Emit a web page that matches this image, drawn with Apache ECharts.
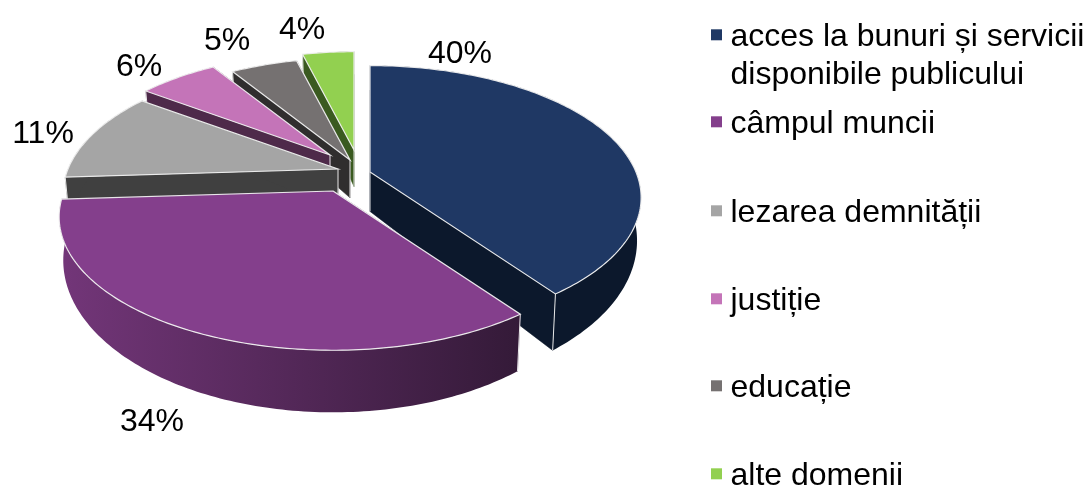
<!DOCTYPE html>
<html style="height: 100%">
<head>
<meta charset="utf-8">
<script src="https://cdn.jsdelivr.net/npm/echarts@6/dist/echarts.min.js"></script>
</head>
<body style="height: 100%; margin: 0; background: #fff;">
<div id="container" style="width: 1088px; height: 486px;"></div>
<script type="text/javascript">
// values
var categories = [
    'acces la bunuri și servicii\ndisponibile publicului',
    'câmpul muncii',
    'lezarea demnității',
    'justiție',
    'educație',
    'alte domenii'
];
var shares = [40, 34, 11, 6, 5, 4];

// colours: top face, side face
var topColors = ['#1f3864', '#843f8c', '#a5a5a5', '#c474b8', '#757171', '#92d050'];
var sideColors = ['#0c182c', '#4a2450', '#404040', '#4e2a4a', '#302e2e', '#3a5a20'];

// 3d look of the pie (excel style perspective)
var centerX = 350, centerY = 172;
var radiusX = 270, radiusY = 129, perspective = 0.194;
var depth = 40, bottomScaleX = 0.985, bottomScaleY = 1.14;
var explodeX = [20, -17, -12, -20, 0, 4];
var explodeY = [0, 19, -3, -17, -12, -22];
var sliceScale = [0.985, 0.995, 1, 0.94, 0.945, 0.91];
var drawOrder = [5, 6, 4, 3, 2, 1];
var labelX = [460, 152, 43, 139, 227, 302];
var labelY = [54, 422, 134, 67, 41, 30];
var legendY = [35, 122, 211, 299, 386, 474];

var total = shares.reduce(function (a, b) { return a + b; }, 0);

function startAngle(idx) {
    var sum = 0;
    for (var i = 0; i < idx; i++) sum += shares[i];
    return sum / total * Math.PI * 2;
}

// angle is clockwise from the top
function project(idx, angle, bottom) {
    var s = sliceScale[idx];
    var x = Math.sin(angle), y = -Math.cos(angle);
    var w = 1 - perspective * y;
    var px = radiusX * s * x / w, py = radiusY * s * y / w;
    var ox = centerX + explodeX[idx], oy = centerY + explodeY[idx];
    if (bottom) return [ox + px * bottomScaleX, oy + depth * s + py * bottomScaleY];
    return [ox + px, oy + py];
}

function apex(idx, bottom) {
    return [centerX + explodeX[idx], centerY + explodeY[idx] + (bottom ? depth * sliceScale[idx] : 0)];
}

function arc(idx, a0, a1, bottom) {
    var pts = [];
    var n = Math.max(8, Math.round((a1 - a0) * 60));
    for (var i = 0; i <= n; i++) pts.push(project(idx, a0 + (a1 - a0) * i / n, bottom));
    return pts;
}

function renderSlice(idx, api) {
    var a0 = startAngle(idx);
    var a1 = a0 + api.value(0) / total * Math.PI * 2;
    var topArc = arc(idx, a0, a1, false);
    var bottomArc = arc(idx, a0, a1, true);
    var edgeColor = 'rgba(240,240,240,0.95)';
    var side = sideColors[idx];

    var wallFill = side;
    if (idx === 1) {
        wallFill = new echarts.graphic.LinearGradient(0, 0, 1, 0, [
            { offset: 0, color: '#733679' },
            { offset: 1, color: '#341a38' }
        ]);
    }

    var children = [];
    // the two cut faces
    [a0, a1].forEach(function (a) {
        children.push({
            type: 'polygon',
            shape: { points: [apex(idx, false), project(idx, a, false), project(idx, a, true), apex(idx, true)] },
            style: { fill: side, stroke: side, lineWidth: 0.5 }
        });
    });
    // outer wall
    children.push({
        type: 'polygon',
        shape: { points: topArc.concat(bottomArc.slice().reverse()) },
        style: { fill: wallFill }
    });
    // seams, the top face hides the ones at the back
    [a0, a1].forEach(function (a) {
        children.push({
            type: 'polyline',
            shape: { points: [project(idx, a, false), project(idx, a, true)] },
            style: { fill: null, stroke: edgeColor, lineWidth: 1 }
        });
    });
    children.push({
        type: 'polyline',
        shape: { points: [apex(idx, false), apex(idx, true)] },
        style: { fill: null, stroke: edgeColor, lineWidth: 1 }
    });
    // top face
    children.push({
        type: 'polygon',
        shape: { points: [apex(idx, false)].concat(topArc) },
        style: { fill: topColors[idx], stroke: edgeColor, lineWidth: 1.2 }
    });
    children.push({
        type: 'text',
        style: {
            text: api.value(0) + '%',
            x: labelX[idx],
            y: labelY[idx],
            fill: '#000',
            font: '32px "Liberation Sans", Arial, sans-serif',
            align: 'center',
            verticalAlign: 'middle'
        }
    });
    return { type: 'group', children: children };
}

var seriesList = categories.map(function (name, i) {
    return {
        type: 'custom',
        name: name,
        coordinateSystem: 'none',
        z: drawOrder[i],
        silent: true,
        animation: false,
        itemStyle: { color: topColors[i] },
        data: [shares[i]],
        renderItem: function (params, api) { return renderSlice(i, api); }
    };
});

var legendLine = 38;
var legendList = categories.map(function (name, i) {
    var twoLines = name.indexOf('\n') >= 0;
    return {
        data: [name],
        left: 711,
        top: legendY[i] + 2 - (twoLines ? legendLine * 1.5 : legendLine / 2),
        padding: 0,
        // square marker, the empty point under it lifts it 2px against the text
        icon: 'path://M0 0H10V10H0Z M0 14L0 14',
        itemWidth: 18,
        itemHeight: 15.4,
        itemGap: 0,
        selectedMode: false,
        // empty first line keeps the marker next to the first text line
        formatter: function (n) { return twoLines ? '\n' + n : n; },
        textStyle: {
            color: '#000',
            fontFamily: '"Liberation Sans", Arial, sans-serif',
            fontSize: 32,
            lineHeight: legendLine
        }
    };
});

var myChart = echarts.init(document.getElementById('container'));
myChart.setOption({
    animation: false,
    backgroundColor: '#fff',
    legend: legendList,
    series: seriesList
});
</script>
</body>
</html>
